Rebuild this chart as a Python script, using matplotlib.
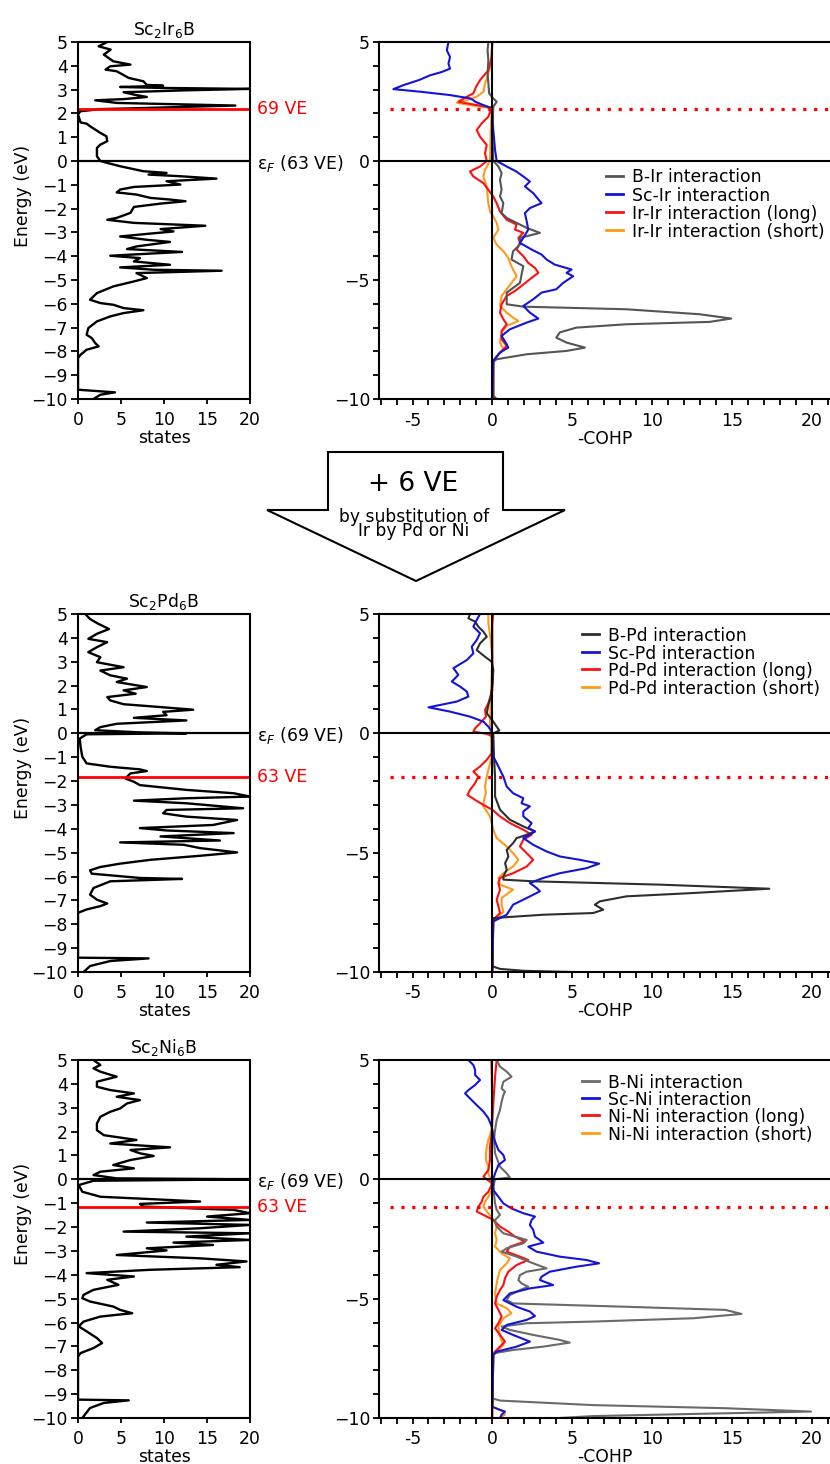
import numpy as np
import matplotlib.pyplot as plt
from matplotlib.patches import Polygon
from matplotlib.lines import Line2D
from matplotlib.ticker import MultipleLocator

plt.rcParams['font.family'] = ['DejaVu Sans']
plt.rcParams['mathtext.default'] = 'regular'

# ---------------- data: (energy eV, value) ----------------
# total DOS (states)
ir_dos = [(5, 3.4), (4.82, 2.4), (4.68, 3.8), (4.47, 3.0), (4.19, 4.1), (4.05, 6.1), (3.98, 3.75), (3.84, 3.2),
          (3.77, 4.5), (3.49, 5.9), (3.35, 7.6), (3.2, 8.0), (3.16, 9.9), (3.11, 4.9), (3.07, 9.6), (3.03, 20),
          (2.97, 12.6), (2.89, 5.3), (2.79, 6.5), (2.69, 8.0), (2.6, 5.3), (2.55, 2.0), (2.44, 4.5), (2.33, 18.3),
          (2.27, 11.9), (2.21, 6.1), (2.18, 2.6), (2.09, 0.27), (1.95, 0.0), (1.62, 0.3), (1.57, 1.0), (1.46, 1.4),
          (1.18, 2.6), (1.04, 3.3), (0.83, 3.4), (0.69, 2.6), (0.55, 2.2), (0.2, 2.2), (0, 2.6), (-0.08, 3.4),
          (-0.22, 4.9), (-0.43, 7.6), (-0.5, 10.3), (-0.57, 8.2), (-0.64, 11.9), (-0.74, 16.1), (-0.85, 10.3),
          (-0.99, 11.9), (-1.09, 6.5), (-1.2, 4.9), (-1.32, 4.5), (-1.41, 6.8), (-1.55, 8.4), (-1.62, 10.7),
          (-1.69, 12.5), (-1.79, 9.6), (-1.93, 6.5), (-2.18, 6.1), (-2.39, 4.5), (-2.47, 3.4), (-2.6, 6.5),
          (-2.72, 14.8), (-2.86, 9.6), (-2.96, 11.1), (-3.05, 8.4), (-3.17, 4.9), (-3.31, 8.0), (-3.4, 10.7),
          (-3.59, 6.8), (-3.7, 5.7), (-3.82, 12.1), (-3.98, 3.75), (-4.08, 7.2), (-4.22, 6.5), (-4.36, 10.7),
          (-4.47, 4.9), (-4.57, 8.8), (-4.61, 16.7), (-4.71, 6.8), (-4.92, 8.0), (-5.06, 6.5), (-5.27, 4.1),
          (-5.55, 2.2), (-5.83, 1.4), (-5.97, 2.6), (-6.04, 4.1), (-6.18, 5.3), (-6.27, 7.6), (-6.39, 5.3),
          (-6.53, 3.75), (-6.74, 2.2), (-7.02, 1.2), (-7.3, 1.0), (-7.44, 1.6), (-7.65, 2.0), (-7.79, 2.4),
          (-7.93, 1.0), (-8.14, 0.3), (-8.28, 0.0), (-9.61, 0.0), (-9.72, 4.3), (-9.82, 2.6), (-10, 1.8)]

pd_dos = [(5, 0.85), (4.79, 1.4), (4.58, 2.4), (4.55, 2.6), (4.37, 3.6), (4.17, 2.2), (3.96, 1.2), (3.82, 3.4),
          (3.61, 2.2), (3.4, 1.2), (3.19, 2.6), (2.98, 2.2), (2.77, 5.3), (2.63, 2.6), (2.43, 3.75), (2.29, 5.7),
          (2.15, 4.5), (1.94, 8.0), (1.8, 5.3), (1.66, 6.7), (1.52, 3.4), (1.38, 3.75), (1.22, 5.3), (1.1, 9.6),
          (0.99, 13.4), (0.9, 9.9), (0.76, 10.3), (0.65, 6.5), (0.54, 12.6), (0.4, 4.5), (0.26, 2.6), (0.13, 2.0),
          (0.04, 7.2), (0, 12.6), (-0.04, 1.0), (-0.22, 0.2), (-0.57, 0.3), (-0.98, 0.5), (-1.26, 1.0),
          (-1.4, 3.75), (-1.51, 7.2), (-1.58, 8.0), (-1.68, 6.1), (-1.89, 5.5), (-2.03, 6.5), (-2.17, 7.2),
          (-2.37, 12.6), (-2.51, 18.1), (-2.65, 20), (-2.72, 12.6), (-2.82, 6.5), (-2.93, 12.6), (-3.14, 19.2),
          (-3.21, 10.3), (-3.35, 9.9), (-3.49, 12.6), (-3.63, 18.5), (-3.84, 15.7), (-3.97, 7.2), (-4.07, 10.3),
          (-4.18, 18.1), (-4.32, 9.6), (-4.49, 16.5), (-4.57, 4.9), (-4.67, 12.3), (-4.81, 14.2), (-4.99, 18.5),
          (-5.13, 14.2), (-5.3, 8.4), (-5.46, 4.9), (-5.6, 2.6), (-5.74, 1.4), (-5.88, 1.6), (-6.06, 7.2),
          (-6.1, 12.1), (-6.2, 3.75), (-6.48, 1.8), (-6.76, 1.4), (-6.97, 2.2), (-7.13, 3.4), (-7.24, 2.6),
          (-7.38, 1.0), (-7.52, 0.0), (-9.4, 0.0), (-9.43, 8.2), (-9.54, 3.75), (-9.75, 1.4), (-10, 0.65)]

ni_dos = [(5, 1.8), (4.79, 2.6), (4.65, 1.8), (4.51, 2.6), (4.3, 4.5), (4.09, 2.2), (3.88, 2.2), (3.74, 3.75),
          (3.6, 6.5), (3.46, 4.5), (3.32, 7.2), (3.18, 5.7), (2.97, 4.9), (2.83, 3.75), (2.62, 2.6), (2.34, 2.2),
          (2.06, 2.2), (1.85, 3.0), (1.65, 6.8), (1.5, 3.75), (1.34, 10.7), (1.23, 6.1), (1.09, 7.2), (0.98, 8.8),
          (0.81, 6.1), (0.6, 4.1), (0.46, 6.5), (0.32, 2.6), (0.18, 1.8), (0.04, 4.5), (0, 20), (-0.06, 1.8),
          (-0.24, 0.08), (-0.52, 0.5), (-0.73, 2.6), (-0.86, 10.3), (-0.93, 14.2), (-1.03, 7.2), (-1.14, 7.6),
          (-1.28, 18.1), (-1.42, 20), (-1.56, 15.0), (-1.7, 20), (-1.81, 8.0), (-1.91, 20), (-2.05, 14.2),
          (-2.19, 5.3), (-2.26, 20), (-2.4, 12.6), (-2.54, 20), (-2.65, 11.1), (-2.75, 15.7), (-2.89, 8.0),
          (-2.98, 10.3), (-3.17, 4.5), (-3.31, 14.2), (-3.44, 19.6), (-3.58, 16.1), (-3.68, 18.8), (-3.79, 8.4),
          (-3.93, 1.0), (-4.07, 6.5), (-4.21, 3.4), (-4.42, 4.7), (-4.63, 1.8), (-4.84, 0.65), (-4.98, 0.5),
          (-5.12, 1.4), (-5.33, 4.1), (-5.47, 4.9), (-5.61, 6.3), (-5.75, 2.6), (-5.96, 0.65), (-6.16, 0.08),
          (-6.37, 1.0), (-6.65, 2.2), (-6.86, 2.8), (-7.07, 1.8), (-7.28, 0.3), (-7.42, 0.0), (-9.23, 0.0),
          (-9.26, 5.9), (-9.37, 3.0), (-9.58, 1.4), (-10, 0.5)]

# -COHP curves
ir_b = [(5, -0.25), (4.65, -0.3), (4.23, -0.25), (3.67, -0.3), (3.26, -0.25), (2.84, -0.2), (2.63, 0.06),
        (2.49, 0.27), (2.28, 0.06), (1.3, 0), (0, 0.06), (-0.23, 0.38), (-0.51, 0.58), (-0.79, 0.48),
        (-1.21, 0.58), (-1.49, 0.48), (-1.77, 0.69), (-2.19, 0.58), (-2.39, 0.9), (-2.6, 1.52), (-2.81, 2.15),
        (-3.02, 2.98), (-3.23, 1.73), (-3.51, 1.73), (-3.79, 1.3), (-4.14, 1.2), (-4.42, 1.94), (-4.77, 1.83),
        (-5.12, 1.73), (-5.53, 0.9), (-6.02, 0.9), (-6.12, 1.94), (-6.23, 8.4), (-6.44, 13.0), (-6.62, 14.96),
        (-6.76, 13.6), (-6.86, 8.4), (-7.0, 5.27), (-7.2, 4.23), (-7.42, 4.0), (-7.63, 4.65), (-7.84, 5.8),
        (-7.98, 4.65), (-8.12, 2.15), (-8.33, 0.27), (-8.44, 0.06), (-9.86, 0.06), (-10, 0.27)]
ir_sc = [(5, -2.75), (4.65, -2.85), (4.37, -2.65), (4.09, -2.75), (3.88, -2.65), (3.74, -3.17), (3.6, -3.9),
         (3.4, -4.6), (3.19, -5.56), (3.02, -6.2), (2.91, -4.5), (2.77, -2.65), (2.63, -1.4), (2.56, -1.2),
         (2.49, -1.08), (2.21, -0.04), (1.3, 0.06), (0.46, 0.17), (0, 0.27), (-0.23, 0.9), (-0.44, 1.5),
         (-0.65, 1.94), (-0.86, 2.35), (-1.07, 2.04), (-1.35, 2.56), (-1.77, 3.08), (-1.98, 2.35), (-2.19, 2.04),
         (-2.53, 2.15), (-2.88, 2.25), (-3.23, 1.94), (-3.44, 1.73), (-3.72, 2.46), (-3.93, 3.08), (-4.14, 3.4),
         (-4.35, 3.9), (-4.56, 4.96), (-4.7, 4.65), (-4.84, 5.06), (-5.12, 4.44), (-5.39, 4.0), (-5.53, 3.08),
         (-5.81, 2.56), (-6.09, 1.94), (-6.37, 2.35), (-6.62, 2.88), (-6.79, 2.15), (-7.07, 1.1), (-7.35, 0.58),
         (-7.7, 0.9), (-7.84, 1.0), (-8.05, 0.48), (-8.4, 0.06), (-10, 0)]
ir_long = [(5, 0), (4.37, -0.04), (3.81, -0.25), (3.4, -0.77), (3.12, -1.02), (2.84, -1.19), (2.7, -1.6),
           (2.49, -2.13), (2.35, -0.98), (2.25, -0.04), (1.86, -0.25), (1.58, -0.67), (1.3, -0.98), (1.02, -0.77),
           (0.67, -0.35), (0.32, -0.46), (0, -0.35), (-0.23, -0.77), (-0.44, -1.4), (-0.65, -1.19), (-0.93, -0.56),
           (-1.21, -0.25), (-1.49, 0.06), (-1.77, 0.27), (-2.12, 0.48), (-2.47, 0.9), (-2.67, 1.52), (-2.88, 1.42),
           (-3.02, 1.94), (-3.23, 1.63), (-3.44, 1.73), (-3.72, 1.52), (-4.0, 1.94), (-4.28, 2.25), (-4.49, 2.67),
           (-4.7, 2.88), (-4.91, 2.46), (-5.19, 1.94), (-5.46, 1.42), (-5.67, 0.9), (-6.02, 0.58), (-6.37, 0.48),
           (-6.65, 0.69), (-6.86, 0.9), (-7.14, 0.58), (-7.49, 0.58), (-7.77, 0.9), (-8.05, 0.48), (-8.4, 0.06),
           (-10, 0.06)]
ir_short = [(5, 0), (4.09, -0.1), (3.67, -0.25), (3.26, -0.46), (2.91, -0.56), (2.7, -0.98), (2.56, -1.6),
            (2.45, -2.23), (2.35, -1.4), (2.25, -0.35), (2.14, -0.04), (1.3, -0.1), (0, -0.15), (-0.37, -0.46),
            (-0.65, -0.56), (-1.07, -0.35), (-1.77, -0.25), (-2.12, -0.15), (-2.33, 0.06), (-2.6, 0.27),
            (-2.88, 0.38), (-3.23, 0.06), (-3.51, 0.27), (-3.79, 0.69), (-4.07, 1.0), (-4.28, 1.1), (-4.56, 1.3),
            (-4.84, 1.52), (-5.12, 1.2), (-5.39, 0.9), (-5.67, 0.58), (-6.09, 0.48), (-6.37, 0.9), (-6.58, 1.3),
            (-6.72, 1.63), (-6.93, 0.9), (-7.2, 0.58), (-7.63, 0.48), (-7.91, 0.69), (-8.19, 0.27), (-8.4, 0.06),
            (-10, 0.06)]

pd_b = [(5, -1.4), (4.82, -1.5), (4.68, -1.08), (4.47, -0.88), (4.26, -0.56), (4.05, -0.35), (3.77, -0.77),
        (3.49, -0.98), (3.21, -0.46), (3.0, -0.04), (2.66, 0.06), (2.1, 0.02), (1.54, -0.1), (1.19, -0.25),
        (0.84, -0.35), (0.49, 0.06), (0.28, 0.27), (0.12, 0.44), (0, 0.06), (-0.97, 0.1), (-1.81, 0.17),
        (-2.65, 0.17), (-3.2, 0.48), (-3.62, 1.1), (-3.9, 1.94), (-4.11, 2.67), (-4.25, 2.15), (-4.39, 1.52),
        (-4.6, 1.3), (-4.88, 0.9), (-5.16, 1.0), (-5.44, 0.8), (-5.72, 0.9), (-5.99, 0.69), (-6.13, 0.69),
        (-6.2, 2.56), (-6.34, 10.5), (-6.51, 17.35), (-6.69, 12.6), (-6.83, 8.4), (-7.04, 6.73), (-7.18, 6.42),
        (-7.39, 6.94), (-7.53, 6.31), (-7.6, 3.19), (-7.74, 0.06), (-7.95, 0), (-9.76, 0), (-9.87, 0.48),
        (-9.95, 2.0), (-10, 5.0)]
pd_sc = [(5, -0.77), (4.75, -0.98), (4.47, -1.19), (4.19, -0.77), (3.91, -0.98), (3.63, -1.29), (3.35, -1.19),
         (3.07, -1.6), (2.73, -2.44), (2.45, -2.13), (2.17, -2.54), (1.96, -2.02), (1.75, -1.6), (1.54, -1.5),
         (1.33, -2.23), (1.09, -4.0), (0.91, -2.65), (0.7, -1.4), (0.49, -0.56), (0.28, -0.25), (0.07, -0.04),
         (-0.97, 0.06), (-1.39, 0.38), (-1.81, 0.69), (-2.23, 0.9), (-2.51, 1.3), (-2.72, 1.94), (-2.93, 1.83),
         (-3.06, 2.35), (-3.27, 1.94), (-3.48, 1.94), (-3.76, 2.46), (-3.97, 2.25), (-4.11, 2.67), (-4.25, 2.35),
         (-4.39, 1.94), (-4.67, 2.56), (-4.95, 3.4), (-5.16, 4.23), (-5.3, 5.48), (-5.46, 6.69), (-5.65, 5.9),
         (-5.86, 4.23), (-6.06, 3.19), (-6.27, 2.35), (-6.48, 2.77), (-6.62, 2.98), (-6.9, 2.15), (-7.18, 1.3),
         (-7.39, 1.1), (-7.6, 0.9), (-7.74, 0.48), (-7.88, 0.06), (-10, 0)]
pd_long = [(5, 0.06), (4.61, 0), (3.21, 0), (1.82, 0), (1.26, -0.25), (0.98, -0.46), (0.7, -0.4), (0.42, -0.77),
           (0.21, -1.08), (0.07, -1.19), (-0.02, -0.35), (-0.13, 0), (-0.83, -0.04), (-1.11, -0.35), (-1.39, -0.77),
           (-1.6, -1.19), (-1.81, -0.88), (-2.09, -1.08), (-2.37, -1.4), (-2.58, -1.56), (-2.79, -1.08),
           (-3.0, -0.56), (-3.2, 0), (-3.48, 0.48), (-3.76, 1.1), (-4.04, 1.94), (-4.25, 2.46), (-4.46, 1.94),
           (-4.74, 1.73), (-5.02, 2.15), (-5.3, 2.56), (-5.58, 2.15), (-5.86, 1.3), (-6.06, 0.48), (-6.27, 0.38),
           (-6.55, 0.48), (-6.97, 0.27), (-7.25, 0.38), (-7.53, 0.48), (-7.81, 0.06), (-10, 0)]
pd_short = [(5, -0.25), (4.61, -0.25), (3.91, -0.1), (3.21, 0), (0.42, -0.15), (0, -0.1), (-0.97, -0.04),
            (-1.81, -0.35), (-2.23, -0.46), (-2.51, -0.4), (-2.79, -0.52), (-3.06, -0.56), (-3.27, -0.35),
            (-3.48, -0.15), (-3.76, -0.04), (-4.04, 0.06), (-4.39, 0.27), (-4.74, 0.9), (-5.02, 1.3), (-5.3, 1.63),
            (-5.58, 1.3), (-5.86, 0.69), (-6.06, 0.38), (-6.34, 0.48), (-6.55, 1.3), (-6.69, 1.0), (-6.9, 0.58),
            (-7.18, 0.58), (-7.46, 0.69), (-7.74, 0.38), (-7.88, 0.06), (-10, 0)]

ni_b = [(5, 0.27), (4.72, 0.48), (4.51, 0.9), (4.3, 1.2), (4.09, 0.69), (3.81, 0.58), (3.67, 0.79), (3.53, 0.69),
        (3.25, 0.58), (2.91, 0.48), (2.49, 0.27), (2.07, 0.17), (1.65, 0.1), (1.09, 0.17), (0.53, 0.48),
        (0.25, 0.9), (0.08, 1.1), (0, 0.17), (-0.31, 0.06), (-0.59, 0.1), (-1.01, 0.17), (-1.28, 0.27),
        (-1.49, 0.48), (-1.7, 0.17), (-1.98, 0.27), (-2.26, 0.69), (-2.54, 2.15), (-2.68, 1.94), (-2.89, 0.9),
        (-3.03, 0.58), (-3.24, 1.52), (-3.52, 2.56), (-3.73, 3.4), (-3.87, 2.15), (-4.01, 1.73), (-4.22, 1.63),
        (-4.36, 1.83), (-4.5, 2.25), (-4.64, 1.73), (-4.85, 1.1), (-5.06, 0.9), (-5.2, 1.3), (-5.34, 8.4),
        (-5.47, 14.6), (-5.64, 15.6), (-5.82, 12.6), (-5.96, 6.3), (-6.03, 2.15), (-6.17, 0.58), (-6.31, 1.1),
        (-6.52, 2.56), (-6.73, 4.23), (-6.84, 4.85), (-7.01, 3.19), (-7.15, 1.3), (-7.29, 0.06), (-9.18, 0),
        (-9.27, 0.48), (-9.46, 6.3), (-9.59, 14.6), (-9.73, 19.96), (-9.83, 12.6), (-9.92, 6.3), (-10, 4.2)]
ni_sc = [(5, -1.5), (4.79, -1.19), (4.58, -1.08), (4.37, -1.08), (4.16, -0.77), (3.95, -1.08), (3.74, -1.5),
         (3.6, -1.71), (3.39, -1.4), (3.11, -0.98), (2.84, -0.56), (2.56, -0.25), (2.21, -0.04), (1.86, 0.06),
         (1.58, 0.17), (1.23, 0.38), (1.02, 0.69), (0.81, 0.79), (0.6, 0.38), (0.25, 0.17), (0, 0.06),
         (-0.45, 0.06), (-0.73, 0.38), (-1.01, 0.69), (-1.22, 1.2), (-1.42, 1.94), (-1.56, 2.67), (-1.7, 2.46),
         (-1.91, 2.35), (-2.12, 2.56), (-2.4, 2.67), (-2.65, 3.19), (-2.82, 2.25), (-3.03, 2.77), (-3.24, 4.23),
         (-3.38, 5.9), (-3.52, 6.69), (-3.66, 5.27), (-3.87, 3.6), (-4.08, 3.08), (-4.22, 2.98), (-4.43, 3.81),
         (-4.57, 2.35), (-4.78, 1.1), (-5.06, 0.69), (-5.34, 1.52), (-5.54, 2.35), (-5.73, 2.67), (-5.89, 2.15),
         (-6.1, 0.9), (-6.31, 0.58), (-6.52, 1.3), (-6.8, 2.35), (-7.01, 1.52), (-7.22, 0.27), (-7.36, 0.06),
         (-9.53, 0), (-9.66, 0.48), (-9.73, 0.79), (-9.86, 0.58), (-10, 0.48)]
ni_long = [(5, 0.27), (4.3, 0.17), (3.6, 0.1), (2.49, 0), (1.93, -0.04), (1.37, -0.15), (0.81, -0.15),
           (0.39, -0.25), (0.11, -0.56), (0, -0.35), (-0.17, 0), (-0.52, -0.25), (-0.73, -0.56), (-0.94, -0.67),
           (-1.15, -0.88), (-1.35, -0.98), (-1.49, -0.56), (-1.7, 0.06), (-1.98, 0.48), (-2.19, 1.0), (-2.4, 1.42),
           (-2.61, 2.04), (-2.82, 1.1), (-3.03, 0.9), (-3.24, 1.73), (-3.38, 2.25), (-3.59, 1.52), (-3.87, 1.0),
           (-4.15, 0.79), (-4.43, 0.69), (-4.64, 0.48), (-4.92, 0.27), (-5.2, 0.17), (-5.47, 0.38), (-5.75, 0.58),
           (-6.03, 0.38), (-6.24, 0.17), (-6.52, 0.48), (-6.8, 0.79), (-7.01, 0.48), (-7.29, 0.06), (-10, 0)]
ni_short = [(5, -0.1), (4.3, -0.04), (2.91, 0), (2.07, -0.04), (1.65, -0.25), (1.37, -0.35), (1.09, -0.4),
            (0.81, -0.4), (0.53, -0.25), (0.25, -0.25), (0, -0.1), (-0.45, -0.04), (-0.73, -0.25), (-0.94, -0.46),
            (-1.15, -0.56), (-1.42, -0.25), (-1.7, 0.06), (-1.98, 0.27), (-2.26, 0.17), (-2.54, 0.27),
            (-2.82, 0.17), (-3.1, 0.58), (-3.31, 1.1), (-3.52, 0.9), (-3.8, 0.48), (-4.22, 0.31), (-4.78, 0.17),
            (-5.2, 0.27), (-5.4, 0.9), (-5.61, 1.2), (-5.82, 0.69), (-6.17, 0.38), (-6.59, 0.48), (-6.94, 0.69),
            (-7.22, 0.27), (-7.36, 0.06), (-9.53, 0), (-9.73, 0.69), (-9.86, 0.79), (-10, 0.48)]

titles = ['Sc$_2$Ir$_6$B', 'Sc$_2$Pd$_6$B', 'Sc$_2$Ni$_6$B']
ve_energy = [2.2, -1.85, -1.15]
ve_labels = ['69 VE', '63 VE', '63 VE']
ef_labels = [r'$\varepsilon_{\mathit{F}}$ (63 VE)', r'$\varepsilon_{\mathit{F}}$ (69 VE)',
             r'$\varepsilon_{\mathit{F}}$ (69 VE)']
dos_curves = [ir_dos, pd_dos, ni_dos]
cohp_curves = [[ir_b, ir_sc, ir_long, ir_short], [pd_b, pd_sc, pd_long, pd_short], [ni_b, ni_sc, ni_long, ni_short]]
metals = ['Ir', 'Pd', 'Ni']

# ---------------- layout (pixels) ----------------
W, H = 830, 1464
fig = plt.figure(figsize=(W / 100, H / 100), dpi=100)


def rect(x0, y0, x1, y1):
    return [x0 / W, 1 - y1 / H, (x1 - x0) / W, (y1 - y0) / H]


def px(x, y):
    return x / W, 1 - y / H


rows = [(42, 399), (614, 972), (1060, 1418)]
legend_pos = [(606, 175.5, 18.2), (582, 634, 17.7), (582, 1080.5, 17.4)]
b_colors = ['#555555', '#2e2e2e', '#6a6a6a']
blue, red, orange = '#1414d8', '#ff1010', '#ff9a1a'
fs = 12.4

for i, (top, bot) in enumerate(rows):
    # ---- DOS panel ----
    ax = fig.add_axes(rect(78, top, 250, bot))
    e, s = np.array(dos_curves[i]).T
    ax.plot(s, e, color='black', lw=1.7)
    ax.axhline(0, color='black', lw=1.6)
    ax.axhline(ve_energy[i], color='red', lw=2)
    ax.set_xlim(0, 20)
    ax.set_ylim(-10, 5)
    ax.set_xticks([0, 5, 10, 15, 20])
    ax.set_yticks(range(-10, 6))
    ax.tick_params(direction='out', width=1.3, labelsize=fs)
    ax.tick_params(axis='x', length=3.8, pad=5)
    ax.tick_params(axis='y', length=5, pad=2.5)
    for sp in ax.spines.values():
        sp.set_linewidth(1.5)
    ax.set_ylabel('Energy (eV)', fontsize=fs)
    ax.yaxis.set_label_coords(-0.267, 0.57)
    ax.set_xlabel('states', fontsize=fs, labelpad=0)
    ax.set_title(titles[i], fontsize=fs, pad=5)
    tr = ax.get_yaxis_transform()
    ax.text(1.04, ve_energy[i], ve_labels[i], color='red', fontsize=fs, transform=tr,
            va='center', ha='left')
    ax.text(1.04, 0, ef_labels[i], color='black', fontsize=fs, transform=tr,
            va='center_baseline', ha='left')

    # ---- COHP panel ----
    cx = fig.add_axes(rect(379, top, 830, bot))
    b, sc, lng, sht = cohp_curves[i]
    for c, col in [(sht, orange), (lng, red), (b, b_colors[i]), (sc, blue)]:
        ee, v = np.array(c).T
        cx.plot(v, ee, color=col, lw=1.5, zorder=2)
    cx.axhline(0, color='black', lw=1.5, zorder=3)
    cx.axvline(0, color='black', lw=1.5, zorder=3)
    cx.axhline(ve_energy[i], xmin=0.024, color='red', lw=2.3, ls=(0, (1, 2.4)), zorder=4)
    cx.set_xlim(-7.1, 21.15)
    cx.set_ylim(-10, 5)
    cx.set_xticks([-5, 0, 5, 10, 15, 20], labels=['-5', '0', '5', '10', '15', '20'])
    cx.set_yticks([-10, -5, 0, 5])
    cx.xaxis.set_minor_locator(MultipleLocator(1))
    cx.yaxis.set_minor_locator(MultipleLocator(1))
    cx.tick_params(which='both', direction='out', length=4, width=1.3, labelsize=fs)
    cx.tick_params(axis='x', pad=5)
    cx.tick_params(axis='y', pad=2.4)
    cx.spines['right'].set_visible(False)
    for k in ['left', 'top', 'bottom']:
        cx.spines[k].set_linewidth(1.5)
    cx.set_xlabel('-COHP', fontsize=fs, labelpad=0)

    # legend drawn in figure pixels
    m = metals[i]
    leg = [(b_colors[i], f'B-{m} interaction'), (blue, f'Sc-{m} interaction'),
           (red, f'{m}-{m} interaction (long)'), (orange, f'{m}-{m} interaction (short)')]
    lx, ly, step = legend_pos[i]
    for j, (col, txt) in enumerate(leg):
        yy = ly + j * step
        x0, y0 = px(lx, yy)
        x1, _ = px(lx + 17, yy)
        fig.add_artist(Line2D([x0, x1], [y0, y0], color=col, lw=2))
        tx, ty = px(lx + 26, yy)
        fig.text(tx, ty, txt, fontsize=fs, va='center_baseline', ha='left')

# ---------------- arrow ----------------
arrow_pts = [(328, 452), (503, 452), (503, 510), (565, 510), (416, 581), (267, 510), (328, 510)]
fig.add_artist(Polygon([px(x, y) for x, y in arrow_pts], closed=True, facecolor='white',
                       edgecolor='black', lw=1.5, transform=fig.transFigure))
fig.text(*px(413, 484), '+ 6 VE', fontsize=19, ha='center', va='center')
fig.text(*px(414, 524), 'by substitution of\nIr by Pd or Ni', fontsize=12.3, ha='center', va='center',
         linespacing=0.68, multialignment='center')

fig.savefig('out.png', dpi=100)
